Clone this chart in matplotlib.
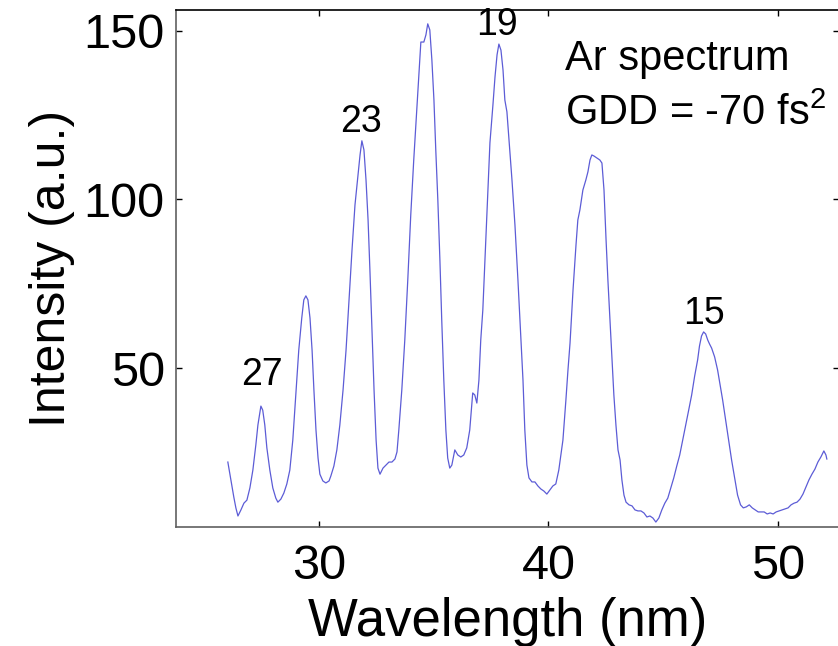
import numpy as np
import matplotlib
matplotlib.use("Agg")
import matplotlib.pyplot as plt

plt.rcParams['font.family'] = ['Liberation Sans', 'DejaVu Sans']
plt.rcParams['mathtext.default'] = 'regular'

# Ar harmonic spectrum
wavelength = [
    26.03, 26.16, 26.29, 26.38, 26.47, 26.60, 26.73, 26.86, 26.99, 27.12,
    27.25, 27.34, 27.47, 27.55, 27.64, 27.73, 27.86, 27.99, 28.12, 28.21,
    28.34, 28.47, 28.60, 28.73, 28.86, 28.99, 29.12, 29.25, 29.34, 29.43,
    29.52, 29.61, 29.70, 29.78, 29.87, 29.96, 30.04, 30.17, 30.30, 30.44,
    30.52, 30.65, 30.78, 30.91, 31.05, 31.18, 31.31, 31.44, 31.57, 31.70,
    31.79, 31.87, 31.96, 32.05, 32.14, 32.22, 32.31, 32.40, 32.49, 32.57,
    32.66, 32.79, 32.92, 33.05, 33.18, 33.31, 33.40, 33.48, 33.61, 33.74,
    33.87, 34.00, 34.13, 34.26, 34.35, 34.44, 34.57, 34.66, 34.74, 34.83,
    34.92, 35.01, 35.09, 35.18, 35.27, 35.35, 35.44, 35.53, 35.61, 35.70,
    35.79, 35.92, 36.05, 36.18, 36.31, 36.44, 36.57, 36.70, 36.79, 36.88,
    36.97, 37.05, 37.14, 37.27, 37.36, 37.45, 37.58, 37.67, 37.76, 37.84,
    37.93, 38.02, 38.10, 38.19, 38.28, 38.41, 38.54, 38.67, 38.80, 38.89,
    38.97, 39.06, 39.15, 39.28, 39.41, 39.54, 39.67, 39.80, 39.93, 40.06,
    40.19, 40.32, 40.45, 40.54, 40.63, 40.76, 40.85, 40.94, 41.07, 41.20,
    41.28, 41.37, 41.50, 41.63, 41.72, 41.81, 41.89, 41.98, 42.11, 42.24,
    42.33, 42.42, 42.51, 42.59, 42.68, 42.77, 42.85, 42.94, 43.03, 43.12,
    43.20, 43.29, 43.38, 43.51, 43.64, 43.77, 43.90, 44.03, 44.16, 44.29,
    44.42, 44.55, 44.68, 44.81, 44.94, 45.07, 45.20, 45.33, 45.46, 45.59,
    45.72, 45.85, 45.98, 46.11, 46.24, 46.37, 46.50, 46.58, 46.67, 46.76,
    46.85, 46.94, 47.02, 47.11, 47.24, 47.37, 47.46, 47.59, 47.72, 47.85,
    47.98, 48.11, 48.24, 48.37, 48.49, 48.62, 48.75, 48.88, 49.01, 49.14,
    49.27, 49.40, 49.53, 49.66, 49.79, 49.92, 50.05, 50.18, 50.31, 50.44,
    50.57, 50.70, 50.83, 50.96, 51.09, 51.22, 51.35, 51.48, 51.61, 51.74,
    51.87, 52.00, 52.09, 52.13,
]
intensity = [
    22.1, 16.8, 11.7, 8.5, 6.1, 7.9, 9.9, 10.8, 14.4, 19.7,
    27.2, 33.1, 38.7, 37.5, 33.1, 26.3, 19.7, 14.4, 11.4, 10.2,
    11.1, 12.9, 15.6, 19.7, 28.6, 42.0, 55.3, 64.8, 70.2, 71.4,
    70.2, 64.8, 55.3, 43.5, 31.6, 23.3, 18.5, 16.5, 15.9, 16.5,
    18.0, 20.9, 25.7, 33.1, 43.5, 55.3, 70.2, 85.0, 98.4, 107.3,
    113.2, 117.4, 114.7, 105.8, 93.9, 79.1, 61.3, 43.5, 28.6, 20.3,
    18.5, 20.3, 21.2, 22.1, 22.1, 23.0, 25.1, 31.6, 43.5, 58.3,
    76.1, 95.4, 111.7, 126.5, 136.9, 146.7, 146.7, 148.8, 152.1, 150.3,
    141.4, 129.5, 114.7, 99.8, 82.0, 64.2, 46.4, 31.6, 23.3, 20.3,
    21.2, 25.7, 24.2, 23.6, 24.2, 26.3, 31.6, 42.6, 42.0, 39.6,
    46.4, 58.3, 67.2, 88.0, 102.8, 116.8, 128.0, 136.3, 142.9, 146.1,
    144.3, 138.4, 129.5, 126.0, 117.6, 105.8, 92.4, 76.1, 58.3, 46.4,
    31.6, 21.2, 17.4, 16.2, 16.2, 15.0, 14.1, 13.5, 12.6, 13.8,
    15.0, 15.6, 19.7, 24.2, 28.6, 40.5, 49.4, 57.4, 73.1, 86.5,
    93.9, 96.9, 102.8, 105.8, 108.2, 111.7, 113.2, 112.9, 112.3, 111.7,
    110.8, 102.8, 88.0, 76.1, 64.2, 52.4, 42.0, 33.1, 25.7, 22.7,
    16.8, 12.3, 10.2, 9.4, 9.1, 7.9, 7.6, 7.6, 7.0, 5.8,
    6.1, 5.5, 4.3, 5.5, 7.9, 9.9, 11.4, 14.4, 17.4, 20.9,
    24.2, 28.6, 33.1, 37.5, 42.0, 47.6, 52.4, 56.5, 59.5, 60.7,
    60.1, 58.3, 57.1, 55.9, 53.3, 49.4, 45.8, 40.5, 34.6, 28.6,
    22.7, 17.4, 12.3, 9.4, 8.5, 8.8, 9.4, 8.5, 7.9, 7.3,
    7.3, 7.3, 6.7, 7.0, 6.7, 7.3, 7.6, 7.9, 8.2, 8.5,
    9.4, 9.9, 10.2, 11.1, 12.6, 14.7, 16.8, 18.5, 20.0, 22.1,
    23.6, 25.4, 24.2, 23.0,
]

# harmonic order labels
orders = ['27', '23', '19', '15']
order_x = [27.52, 31.83, 37.76, 46.76]
order_y = [47.9, 123.0, 151.8, 66.0]

xticks = [30, 40, 50]
yticks = [50, 100, 150]

fig = plt.figure(figsize=(8.38, 6.46), dpi=100)
ax = fig.add_axes([0.210, 0.1842, 0.7912, 0.8003])

ax.plot(wavelength, intensity, color='#5c5cd6', lw=0.9)

for lab, xx, yy in zip(orders, order_x, order_y):
    ax.text(xx, yy, lab, fontsize=27, ha='center', va='center')

ax.text(0.586, 0.905, 'Ar spectrum', transform=ax.transAxes,
        fontsize=30, ha='left', va='center')
ax.text(0.586, 0.80, 'GDD = -70 fs$^{2}$', transform=ax.transAxes,
        fontsize=30, ha='left', va='center')

ax.set_xlim(23.77, 52.66)
ax.set_ylim(2.83, 156.2)
ax.set_xticks(xticks)
ax.set_yticks(yticks)
ax.tick_params(direction='in', length=4, width=1, labelsize=35,
               top=True, right=True, pad=8)
ax.tick_params(axis='x', pad=12)
for s in ['left', 'bottom']:
    ax.spines[s].set_color('#606060')
for s in ['top', 'right']:
    ax.spines[s].set_color('black')
for s in ax.spines.values():
    s.set_linewidth(1.2)

ax.set_xlabel('Wavelength (nm)', fontsize=38, labelpad=6)
ax.set_ylabel('Intensity (a.u.)', fontsize=36, labelpad=6)

fig.savefig('out.png', dpi=100)
